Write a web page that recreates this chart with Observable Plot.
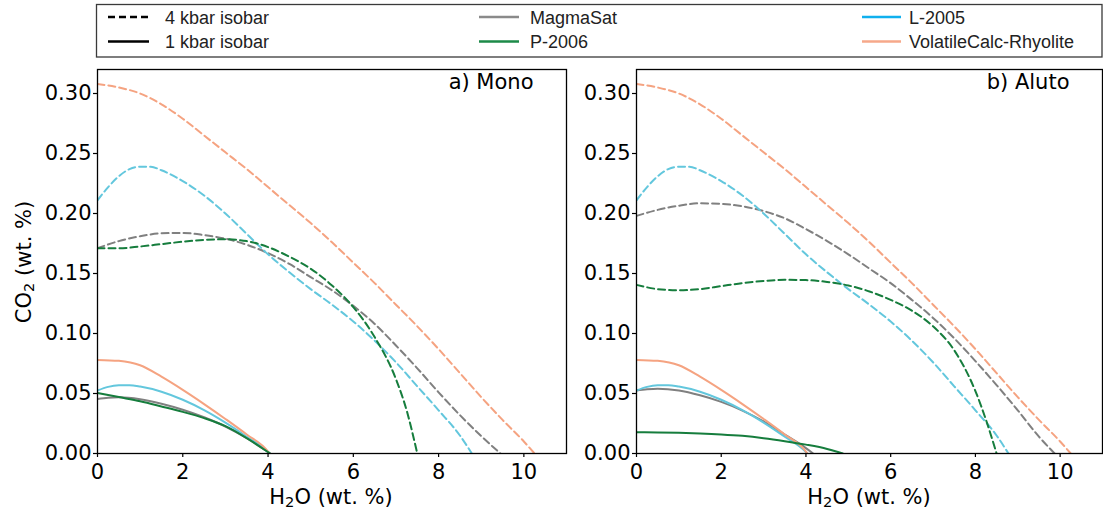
<!DOCTYPE html>
<html><head><meta charset="utf-8">
<script src="https://cdn.jsdelivr.net/npm/d3@7"></script>
<script src="https://cdn.jsdelivr.net/npm/@observablehq/plot@0.6"></script>
<style>
body{margin:0;background:#fff;}
#wrap{position:relative;width:1103px;height:512px;overflow:hidden;background:#fff;}
.abs{position:absolute;}
.axlab{position:absolute;font-family:"DejaVu Sans";font-size:21px;color:#000;white-space:nowrap;line-height:1;}
.axlab sub{font-size:0.7em;vertical-align:-0.25em;line-height:0;}
</style></head><body><div id="wrap"></div>
<script>
// ---------- data ----------
const xTicks = [0, 2, 4, 6, 8, 10];
const yTicks = [0, 0.05, 0.10, 0.15, 0.20, 0.25, 0.30];
const panelLabels = ["a) Mono", "b) Aluto"];
const legendPressure = ["4 kbar isobar", "1 kbar isobar"];
const legendModels = ["MagmaSat", "P-2006", "L-2005", "VolatileCalc-Rhyolite"];

// VolatileCalc-Rhyolite (same in both panels)
const vc4_x = [0,0.5,1,1.5,2,2.5,3,3.5,4,4.5,5,5.5,6,6.5,7,7.5,8,8.5,9,9.5,10,10.25];
const vc4_y = [0.308,0.305,0.300,0.291,0.279,0.265,0.251,0.237,0.222,0.207,0.192,0.176,0.159,0.142,0.124,0.106,0.087,0.067,0.047,0.028,0.010,0];
const vc1_x = [0,0.5,1,1.5,2,2.5,3,3.5,4,4.03];
const vc1_y = [0.078,0.0772,0.0735,0.0640,0.0530,0.0412,0.0288,0.0158,0.0015,0];
// L-2005 (same in both panels)
const l4_x = [0,0.25,0.5,0.75,1,1.25,1.5,2,2.5,3,3.5,4,4.5,5,5.5,6,6.5,7,7.5,8,8.5,8.78];
const l4_y = [0.211,0.222,0.231,0.237,0.239,0.239,0.236,0.227,0.215,0.200,0.183,0.166,0.151,0.137,0.124,0.110,0.094,0.076,0.056,0.036,0.015,0];
const l1_x = [0,0.25,0.5,0.75,1,1.5,2,2.5,3,3.5,4,4.03];
const l1_y = [0.0525,0.0555,0.0568,0.0569,0.0558,0.0515,0.0448,0.0362,0.0258,0.0140,0.0012,0];
// Mono: MagmaSat
const msA4_x = [0,0.5,1,1.5,2,2.5,3,3.5,4,4.5,5,5.5,6,6.5,7,7.5,8,8.5,9,9.45];
const msA4_y = [0.171,0.177,0.181,0.1835,0.1838,0.182,0.179,0.174,0.167,0.158,0.147,0.136,0.123,0.108,0.090,0.071,0.051,0.032,0.0145,0];
const msA1_x = [0,0.25,0.5,1,1.5,2,2.5,3,3.5,4,4.05];
const msA1_y = [0.0455,0.0465,0.0468,0.0452,0.0415,0.0365,0.0302,0.0225,0.0128,0.0012,0];
// Mono: P-2006
const pA4_x = [0,0.5,1,1.5,2,2.5,3,3.5,4,4.5,5,5.5,6,6.5,7,7.25,7.5];
const pA4_y = [0.171,0.171,0.1725,0.1745,0.1765,0.178,0.1785,0.177,0.172,0.164,0.154,0.140,0.122,0.097,0.062,0.036,0];
const pA1_x = [0,0.5,1,1.5,2,2.5,3,3.5,4,4.05];
const pA1_y = [0.0505,0.047,0.0435,0.0392,0.0347,0.0295,0.0228,0.0128,0.0012,0];
// Aluto: MagmaSat
const msB4_x = [0,0.5,1,1.5,2,2.5,3,3.5,4,4.5,5,5.5,6,6.5,7,7.5,8,8.5,9,9.5,9.87];
const msB4_y = [0.198,0.203,0.2065,0.2085,0.208,0.206,0.202,0.196,0.187,0.177,0.166,0.154,0.142,0.128,0.113,0.096,0.077,0.057,0.036,0.014,0];
const msB1_x = [0,0.25,0.5,1,1.5,2,2.5,3,3.5,4,4.17];
const msB1_y = [0.0525,0.0535,0.054,0.0525,0.0485,0.043,0.0358,0.0268,0.0158,0.0045,0];
// Aluto: P-2006
const pB4_x = [0,0.5,1,1.5,2,2.5,3,3.5,4,4.5,5,5.5,6,6.5,7,7.5,8,8.25,8.5];
const pB4_y = [0.1405,0.137,0.136,0.137,0.1395,0.142,0.1438,0.1447,0.1445,0.143,0.140,0.135,0.128,0.119,0.106,0.086,0.052,0.028,0];
const pB1_x = [0,0.5,1,1.5,2,2.5,3,3.5,4,4.5,4.87];
const pB1_y = [0.0178,0.0176,0.0172,0.0167,0.0159,0.0147,0.0128,0.0103,0.0074,0.0038,0];

// ---------- styles ----------
const lineColor = {"MagmaSat": "#808080", "P-2006": "#167d3d", "L-2005": "#63c7dd", "VolatileCalc-Rhyolite": "#f5a381"};
const legendColor = {"MagmaSat": "#8a8a8a", "P-2006": "#1d8a48", "L-2005": "#10b0ee", "VolatileCalc-Rhyolite": "#f6a88a"};

const toRows = (xs, ys) => xs.map((x, i) => ({x, y: ys[i]}));

const panelA = [
  {model: "MagmaSat", dashed: true, rows: toRows(msA4_x, msA4_y)},
  {model: "MagmaSat", dashed: false, rows: toRows(msA1_x, msA1_y)},
  {model: "L-2005", dashed: true, rows: toRows(l4_x, l4_y)},
  {model: "L-2005", dashed: false, rows: toRows(l1_x, l1_y)},
  {model: "VolatileCalc-Rhyolite", dashed: true, rows: toRows(vc4_x, vc4_y)},
  {model: "VolatileCalc-Rhyolite", dashed: false, rows: toRows(vc1_x, vc1_y)},
  {model: "P-2006", dashed: true, rows: toRows(pA4_x, pA4_y)},
  {model: "P-2006", dashed: false, rows: toRows(pA1_x, pA1_y)}
];
const panelB = [
  {model: "MagmaSat", dashed: true, rows: toRows(msB4_x, msB4_y)},
  {model: "MagmaSat", dashed: false, rows: toRows(msB1_x, msB1_y)},
  {model: "L-2005", dashed: true, rows: toRows(l4_x, l4_y)},
  {model: "L-2005", dashed: false, rows: toRows(l1_x, l1_y)},
  {model: "VolatileCalc-Rhyolite", dashed: true, rows: toRows(vc4_x, vc4_y)},
  {model: "VolatileCalc-Rhyolite", dashed: false, rows: toRows(vc1_x, vc1_y)},
  {model: "P-2006", dashed: true, rows: toRows(pB4_x, pB4_y)},
  {model: "P-2006", dashed: false, rows: toRows(pB1_x, pB1_y)}
];

function panel(series, label, width, marginLeft, marginRight) {
  return Plot.plot({
    width, height: 512, marginLeft, marginRight, marginTop: 69, marginBottom: 59,
    style: {fontFamily: "DejaVu Sans", fontSize: "21px", color: "black", background: "transparent", overflow: "visible"},
    x: {domain: [0, 11], label: null},
    y: {domain: [0, 0.32], label: null},
    marks: [
      Plot.axisX({ticks: xTicks, tickSize: 4, tickPadding: 7, label: null, strokeWidth: 1.2}),
      Plot.axisY({ticks: yTicks, tickSize: 4, tickPadding: 2, tickFormat: d3.format(".2f"), label: null, strokeWidth: 1.2}),
      ...series.map(s => Plot.line(s.rows, {
        x: "x", y: "y", stroke: lineColor[s.model], strokeWidth: 2,
        strokeDasharray: s.dashed ? "7,4" : null, curve: "monotone-x", clip: true
      })),
      Plot.frame({stroke: "black", strokeWidth: 1.3}),
      Plot.text([label], {text: d => d, frameAnchor: "top-right", dx: -33, dy: 12.6, lineAnchor: "middle", textAnchor: "end", fontSize: 21, fill: "black"})
    ]
  });
}

const wrap = document.getElementById("wrap");
const pa = panel(panelA, panelLabels[0], 572, 97, 6);
pa.classList.add("abs"); pa.style.left = "0px"; pa.style.top = "0px";
wrap.appendChild(pa);
const pb = panel(panelB, panelLabels[1], 531, 64, 1);
pb.classList.add("abs"); pb.style.left = "572px"; pb.style.top = "0px";
wrap.appendChild(pb);

// axis labels
function addLabel(html, cx, cy, rot) {
  const d = document.createElement("div");
  d.className = "axlab";
  d.innerHTML = html;
  d.style.left = cx + "px"; d.style.top = cy + "px";
  d.style.transform = "translate(-50%,-50%)" + (rot ? " rotate(-90deg)" : "");
  wrap.appendChild(d);
}
addLabel("H<sub>2</sub>O (wt. %)", 331, 497, false);
addLabel("H<sub>2</sub>O (wt. %)", 869, 497, false);
addLabel("CO<sub>2</sub> (wt. %)", 24, 262, true);

// legend
const svg = d3.select(wrap).append("svg").attr("class", "abs")
  .style("left", "0px").style("top", "0px").attr("width", 1103).attr("height", 62);
svg.append("rect").attr("x", 96.5).attr("y", 4.5).attr("width", 1005.5).attr("height", 52.5)
  .attr("fill", "white").attr("stroke", "#3a3a3a").attr("stroke-width", 1.3);
const rowsY = [17, 41.5];
const items = [
  {label: legendPressure[0], color: "#000", dash: "7,4", x0: 108, x1: 149, tx: 165, row: 0},
  {label: legendPressure[1], color: "#000", dash: null, x0: 108, x1: 149, tx: 165, row: 1},
  {label: legendModels[0], color: legendColor["MagmaSat"], dash: null, x0: 479, x1: 519, tx: 530, row: 0},
  {label: legendModels[1], color: legendColor["P-2006"], dash: null, x0: 479, x1: 519, tx: 530, row: 1},
  {label: legendModels[2], color: legendColor["L-2005"], dash: null, x0: 862, x1: 901, tx: 909, row: 0},
  {label: legendModels[3], color: legendColor["VolatileCalc-Rhyolite"], dash: null, x0: 862, x1: 901, tx: 909, row: 1}
];
items.forEach(it => {
  const y = rowsY[it.row];
  const ln = svg.append("line").attr("x1", it.x0).attr("x2", it.x1).attr("y1", y).attr("y2", y)
    .attr("stroke", it.color).attr("stroke-width", 2.6);
  if (it.dash) ln.attr("stroke-dasharray", it.dash);
  svg.append("text").attr("x", it.tx).attr("y", y + 6.5)
    .attr("font-family", "Liberation Sans, Arial, sans-serif").attr("font-size", 18)
    .attr("fill", "#222").text(it.label);
});
</script>
</body></html>
